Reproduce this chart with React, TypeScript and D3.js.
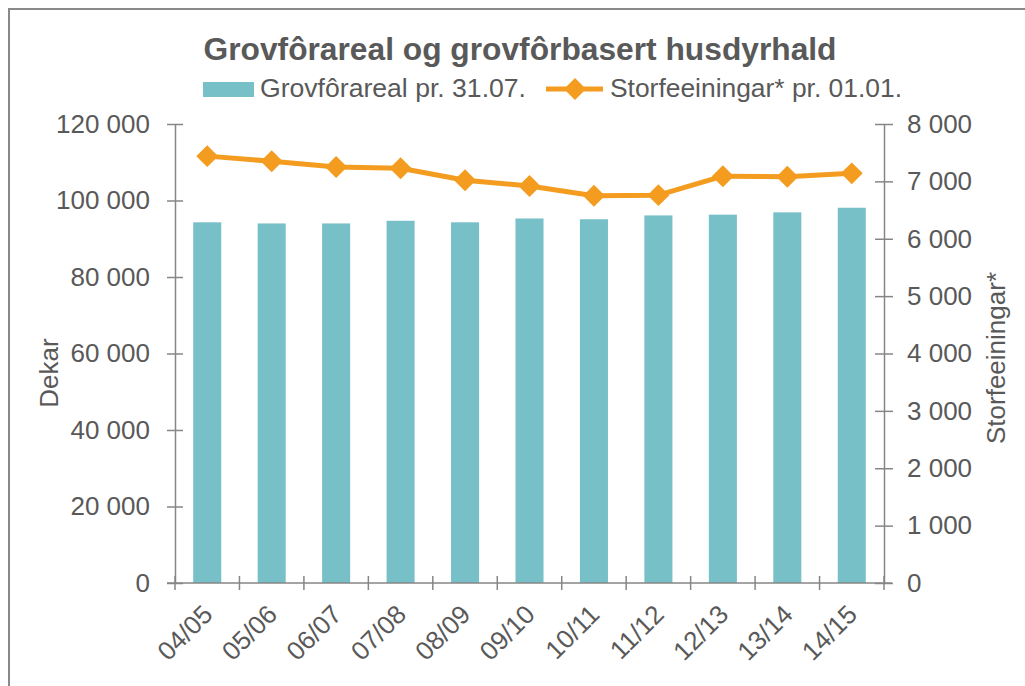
import React, { useEffect, useRef } from "react";
import * as d3 from "d3";

// data
const seasons = ["04/05", "05/06", "06/07", "07/08", "08/09", "09/10", "10/11", "11/12", "12/13", "13/14", "14/15"];
const grovforareal = [94300, 94000, 94000, 94700, 94300, 95300, 95100, 96100, 96300, 96900, 98100];
const storfeeiningar = [7440, 7350, 7250, 7230, 7020, 6920, 6750, 6760, 7090, 7080, 7140];
const leftTicks = [0, 20000, 40000, 60000, 80000, 100000, 120000];
const rightTicks = [0, 1000, 2000, 3000, 4000, 5000, 6000, 7000, 8000];

const title = "Grovfôrareal og grovfôrbasert husdyrhald";
const barLabel = "Grovfôrareal pr. 31.07.";
const lineLabel = "Storfeeiningar* pr. 01.01.";

const W = 1025;
const H = 686;
const FONT = "'Liberation Sans', Arial, sans-serif";
const FS = "26px";
const TEXT = "#595959";
const AXIS = "#868686";
const BAR = "#77C0C8";
const LINE = "#F39C1F";

const App = () => {
    const ref = useRef<SVGSVGElement>(null);

    useEffect(() => {
        const svg = d3.select(ref.current);
        svg.selectAll("*").remove();

        const margin = { top: 124, right: W - 884, bottom: H - 583, left: 175 };

        const fmt = d3.formatLocale({ decimal: ",", thousands: " ", grouping: [3], currency: ["", ""] }).format(",");

        const x = d3.scaleBand()
            .domain(seasons)
            .range([margin.left, W - margin.right])
            .paddingInner(0.565)
            .paddingOuter(0.2825);

        const yLeft = d3.scaleLinear().domain([0, 120000]).range([H - margin.bottom, margin.top]);
        const yRight = d3.scaleLinear().domain([0, 8000]).range([H - margin.bottom, margin.top]);

        // outer frame
        svg.append("rect")
            .attr("x", 9).attr("y", 9)
            .attr("width", W + 20).attr("height", H + 20)
            .attr("fill", "white")
            .attr("stroke", "#898989")
            .attr("stroke-width", 2);

        // bars
        svg.append("g")
            .selectAll("rect")
            .data(grovforareal)
            .join("rect")
            .attr("x", (d, i) => x(seasons[i]))
            .attr("y", (d) => yLeft(d))
            .attr("width", x.bandwidth())
            .attr("height", (d) => yLeft(0) - yLeft(d))
            .attr("fill", BAR);

        // left axis
        const gl = svg.append("g")
            .attr("transform", `translate(${margin.left},0)`)
            .call(d3.axisLeft(yLeft).tickValues(leftTicks).tickFormat(fmt).tickSizeInner(8).tickSizeOuter(0).tickPadding(17));
        gl.selectAll(".tick line").attr("x1", 8);

        // right axis
        const gr = svg.append("g")
            .attr("transform", `translate(${W - margin.right},0)`)
            .call(d3.axisRight(yRight).tickValues(rightTicks).tickFormat(fmt).tickSizeInner(9).tickSizeOuter(0).tickPadding(14));
        gr.selectAll(".tick line").attr("x1", -9);

        // bottom axis, ticks on band edges
        const edges = seasons.map((s) => x(s) - x.step() * x.paddingInner() / 2).concat([W - margin.right]);
        const gb = svg.append("g");
        gb.append("line")
            .attr("x1", margin.left - 8).attr("x2", W - margin.right + 8)
            .attr("y1", yLeft(0)).attr("y2", yLeft(0))
            .attr("stroke", AXIS).attr("stroke-width", 1.5);
        gb.selectAll("line.tk")
            .data(edges)
            .join("line")
            .attr("class", "tk")
            .attr("x1", (d) => d).attr("x2", (d) => d)
            .attr("y1", yLeft(0) - 7).attr("y2", yLeft(0) + 7)
            .attr("stroke", AXIS).attr("stroke-width", 1.5);
        gb.selectAll("text")
            .data(seasons)
            .join("text")
            .attr("transform", (d) => `translate(${x(d) + x.bandwidth() / 2 - 6},${yLeft(0) + 20}) rotate(-45)`)
            .attr("text-anchor", "end")
            .attr("dy", "0.71em")
            .attr("fill", TEXT)
            .style("font-family", FONT)
            .style("font-size", FS)
            .text((d) => d);

        [gl, gr].forEach((g) => {
            g.select(".domain").attr("stroke", AXIS).attr("stroke-width", 1.5);
            g.selectAll(".tick line").attr("stroke", AXIS).attr("stroke-width", 1.5);
            g.selectAll(".tick text")
                .attr("fill", TEXT)
                .style("font-family", FONT)
                .style("font-size", FS);
        });

        // line series
        const line = d3.line<number>()
            .x((d, i) => x(seasons[i]) + x.bandwidth() / 2)
            .y((d) => yRight(d));

        svg.append("path")
            .datum(storfeeiningar)
            .attr("fill", "none")
            .attr("stroke", LINE)
            .attr("stroke-width", 5)
            .attr("stroke-linejoin", "round")
            .attr("d", line);

        const diamond = d3.symbol().type(d3.symbolSquare).size(240);
        svg.append("g")
            .selectAll("path")
            .data(storfeeiningar)
            .join("path")
            .attr("transform", (d, i) => `translate(${x(seasons[i]) + x.bandwidth() / 2},${yRight(d)}) rotate(45)`)
            .attr("d", diamond)
            .attr("fill", LINE);

        // axis titles
        svg.append("text")
            .attr("transform", `translate(58,373) rotate(-90)`)
            .attr("text-anchor", "middle")
            .attr("fill", TEXT)
            .style("font-family", FONT)
            .style("font-size", FS)
            .text("Dekar");

        svg.append("text")
            .attr("transform", `translate(1005,358) rotate(-90)`)
            .attr("text-anchor", "middle")
            .attr("fill", TEXT)
            .style("font-family", FONT)
            .style("font-size", FS)
            .text("Storfeeiningar*");

        // title
        svg.append("text")
            .attr("x", 520).attr("y", 60)
            .attr("text-anchor", "middle")
            .attr("fill", TEXT)
            .style("font-family", FONT)
            .style("font-size", "31px")
            .style("font-weight", "bold")
            .attr("textLength", 633)
            .attr("lengthAdjust", "spacingAndGlyphs")
            .text(title);

        // legend
        const lg = svg.append("g");
        lg.append("rect")
            .attr("x", 203).attr("y", 82)
            .attr("width", 51).attr("height", 15)
            .attr("fill", BAR);
        lg.append("text")
            .attr("x", 260).attr("y", 97)
            .attr("fill", TEXT)
            .style("font-family", FONT)
            .style("font-size", FS)
            .attr("textLength", 266)
            .attr("lengthAdjust", "spacingAndGlyphs")
            .text(barLabel);
        lg.append("line")
            .attr("x1", 546).attr("x2", 603)
            .attr("y1", 89).attr("y2", 89)
            .attr("stroke", LINE).attr("stroke-width", 5);
        lg.append("path")
            .attr("transform", "translate(575,89) rotate(45)")
            .attr("d", diamond)
            .attr("fill", LINE);
        lg.append("text")
            .attr("x", 610).attr("y", 97)
            .attr("fill", TEXT)
            .style("font-family", FONT)
            .style("font-size", FS)
            .attr("textLength", 292)
            .attr("lengthAdjust", "spacingAndGlyphs")
            .text(lineLabel);
    }, []);

    return (
        <svg
            ref={ref}
            width={W}
            height={H}
            style={{ position: "absolute", left: 0, top: 0, background: "white" }}
        />
    );
};

export default App;
